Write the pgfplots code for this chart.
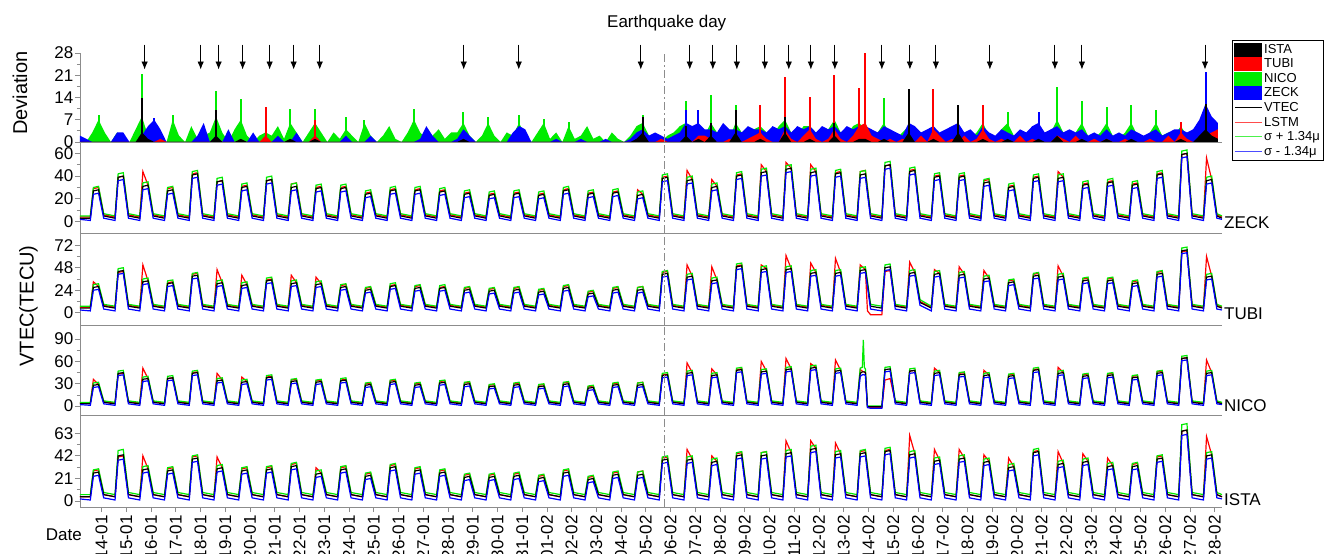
\documentclass[border=0pt]{standalone}
\usepackage{fontspec}
\setmainfont{Liberation Sans}
\usepackage{pgfplots}
\pgfplotsset{compat=1.18}
\usepackage{pgfplotstable}
\usetikzlibrary{arrows.meta}
\definecolor{cgreen}{RGB}{0,235,0}
\definecolor{cblue}{RGB}{0,0,255}
\definecolor{cred}{RGB}{255,0,0}
\definecolor{axgray}{RGB}{140,140,140}
\newcommand\ftick{\fontsize{17bp}{20bp}\selectfont}
\newcommand\flab{\fontsize{20bp}{24bp}\selectfont}
\newcommand\fleg{\fontsize{13bp}{15bp}\selectfont}
\newcommand\ftitle{\fontsize{17bp}{20bp}\selectfont}

% deviation hills: x k(ISTA) r(TUBI) g(NICO) b(ZECK)
\pgfplotstableread{
x k r g b
3 0 0 0 2
9 0 0 0 1
15 0 0 3 0
21 0 0 7 0
27 0 0 3 0
33 0 0 0 0
39 0 0 3 3
45 0 0 1 3
51 0 0 0 0
57 0 0 4 0
63 3 0 8 2
69 1 0 2 5
75 0 0 1 7
81 0 1 0 4
87 0 0 0 0
93 0 0 7 0
99 0 0 2 0
105 0 0 0 0
111 0 0 5 0
117 0 0 1 2
123 0 0 2 6
129 0 0 3 0
135 2 1 8 2
141 0 0 3 0
147 0 0 0 4
153 0 0 4 0
159 1 0 7 0
165 0 0 2 0
171 0 0 0 3
177 0 0 2 0
183 0 2 3 1
189 0 0 2 0
195 0 0 5 2
201 0 0 1 0
207 1 0 6 0
213 0 0 3 3
219 0 0 0 0
225 0 0 3 0
231 1 2 6 2
237 0 0 3 0
243 0 0 0 0
249 0 0 3 0
255 0 0 1 0
261 0 0 4 2
267 0 0 2 0
273 0 0 0 0
279 0 0 6 0
285 0 0 2 2
291 0 0 0 0
297 0 0 2 0
303 0 0 5 0
309 0 0 1 0
315 0 0 0 0
321 0 0 3 0
327 0 0 7 0
333 0 0 3 1
339 0 0 1 5
345 0 0 2 2
351 0 0 4 0
357 0 0 1 0
363 0 0 3 0
369 0 0 3 1
375 1 0 6 4
381 0 0 2 2
387 0 0 0 0
393 0 0 2 0
399 0 0 6 0
405 0 0 2 0
411 0 0 0 0
417 0 0 3 0
423 0 0 2 3
429 0 0 6 5
435 0 0 2 4
441 0 0 0 0
447 0 0 3 0
453 0 0 6 0
459 0 0 1 0
465 0 0 3 1
471 0 0 0 0
477 0 0 5 0
483 0 0 1 0
489 0 0 2 1
495 0 0 5 0
501 0 0 1 0
507 0 0 2 0
513 0 0 0 1
519 0 0 3 0
525 0 0 1 0
531 0 0 0 0
537 0 0 2 1
543 1 0 5 3
549 3 0 6 4
555 0 0 2 2
561 0 0 1 3
567 0 1 0 2
573 0 0 2 1
579 0 0 3 2
585 0 0 5 3
591 2 1 6 6
597 0 0 3 5
603 1 2 4 6
609 0 2 2 4
615 2 1 6 4
621 0 0 3 3
627 0 0 2 6
633 0 1 1 4
639 3 0 6 4
645 0 0 3 3
651 0 1 2 5
657 0 2 4 4
663 1 3 5 4
669 0 1 3 3
675 0 0 2 5
681 0 0 5 4
687 3 4 7 5
693 0 1 3 3
699 0 0 2 5
705 0 2 5 4
711 1 4 5 5
717 0 1 3 3
723 0 0 2 5
729 0 1 4 4
735 2 4 7 5
741 0 1 3 3
747 0 0 2 5
753 0 2 5 4
759 1 5 6 5
765 1 6 4 5
771 0 2 2 4
777 0 1 3 3
783 1 0 6 5
789 0 1 2 4
795 0 0 1 3
801 0 1 3 2
807 3 0 5 6
813 0 0 2 5
819 0 2 3 3
825 0 0 2 4
831 1 4 5 5
837 0 2 2 3
843 0 0 3 4
849 0 1 2 5
855 3 0 4 6
861 0 2 2 3
867 0 0 1 4
873 0 1 3 2
879 1 4 6 5
885 0 1 2 3
891 0 0 1 2
897 0 1 4 4
903 1 0 6 3
909 0 0 2 2
915 0 2 1 4
921 0 0 2 3
927 0 1 3 5
933 1 0 4 6
939 0 0 2 3
945 0 0 3 4
951 2 2 7 5
957 0 1 3 3
963 0 0 2 4
969 0 2 3 3
975 1 0 6 4
981 0 0 2 2
987 0 1 1 3
993 0 0 3 2
999 1 1 6 4
1005 0 0 2 2
1011 0 0 1 3
1017 0 1 3 2
1023 1 0 6 4
1029 0 0 2 3
1035 0 0 1 2
1041 0 1 3 3
1047 0 0 6 4
1053 0 0 2 2
1059 0 2 3 3
1065 0 0 2 4
1071 1 3 5 4
1077 0 1 2 3
1083 0 0 2 4
1089 2 0 6 7
1095 4 2 10 12
1101 2 3 5 8
1107 1 4 3 6
}\dev

% VTEC panels: x v(VTEC) l(LSTM) u(sigma+) b(sigma-)
\pgfplotstableread{
x v l u b
3 3 4 5 2
13 3 4 5 1
16 27 29 30 24
21 28 30 31 25
26 5 6 7 3
37 3 4 5 1
40 39 39 42 36
45 40 40 43 37
50 5 6 7 3
61 3 4 5 1
64 31 44 34 28
69 32 32 35 29
74 5 6 7 3
85 3 4 5 1
88 27 29 30 24
93 28 30 31 25
98 5 6 7 3
109 3 4 5 1
112 41 42 44 38
117 42 43 45 39
122 5 6 7 3
133 3 4 5 1
136 35 35 38 32
141 36 36 39 33
146 5 6 7 3
157 3 4 5 1
160 30 31 33 27
165 31 32 34 28
170 5 6 7 3
181 3 4 5 1
184 36 36 39 33
189 37 37 40 34
194 5 6 7 3
205 3 4 5 1
208 30 33 33 27
213 31 34 34 28
218 5 6 7 3
229 3 4 5 1
232 29 30 32 26
237 30 31 33 27
242 5 6 7 3
253 3 4 5 1
256 29 30 32 26
261 30 31 33 27
266 5 6 7 3
277 3 4 5 1
280 24 25 27 21
285 25 26 28 22
290 5 6 7 3
301 3 4 5 1
304 27 28 30 24
309 28 29 31 25
314 5 6 7 3
325 3 4 5 1
328 27 28 30 24
333 28 29 31 25
338 5 6 7 3
349 3 4 5 1
352 26 27 29 23
357 27 28 30 24
362 5 6 7 3
373 3 4 5 1
376 24 25 27 21
381 25 26 28 22
386 5 6 7 3
397 3 4 5 1
400 23 24 26 20
405 24 25 27 21
410 5 6 7 3
421 3 4 5 1
424 24 25 27 21
429 25 26 28 22
434 5 6 7 3
445 3 4 5 1
448 23 24 26 20
453 24 25 27 21
458 5 6 7 3
469 3 4 5 1
472 27 28 30 24
477 28 29 31 25
482 5 6 7 3
493 3 4 5 1
496 24 25 27 21
501 25 26 28 22
506 5 6 7 3
517 3 4 5 1
520 25 26 28 22
525 26 27 29 23
530 5 6 7 3
541 3 4 5 1
544 23 28 26 20
549 24 24 27 21
554 5 6 7 3
565 3 4 5 1
568 38 39 41 35
573 39 40 42 36
578 5 6 7 3
589 3 4 5 1
592 36 45 39 33
597 37 37 40 34
602 5 6 7 3
613 3 4 5 1
616 30 37 33 27
621 31 31 34 28
626 5 6 7 3
637 3 4 5 1
640 40 41 43 37
645 41 42 44 38
650 5 6 7 3
661 3 4 5 1
664 43 50 46 40
669 44 44 47 41
674 5 6 7 3
685 3 4 5 1
688 46 52 49 43
693 47 47 50 44
698 5 6 7 3
709 3 4 5 1
712 43 50 46 40
717 44 44 47 41
722 5 6 7 3
733 3 4 5 1
736 42 43 45 39
741 43 44 46 40
746 5 6 7 3
757 3 4 5 1
760 41 44 44 38
765 42 45 45 39
770 5 6 7 3
781 3 4 5 1
784 49 49 52 46
789 50 50 53 47
794 5 6 7 3
805 3 4 5 1
808 44 45 47 41
813 45 46 48 42
818 5 6 7 3
829 3 4 5 1
832 39 40 42 36
837 40 41 43 37
842 5 6 7 3
853 3 4 5 1
856 39 40 42 36
861 40 41 43 37
866 5 6 7 3
877 3 4 5 1
880 34 36 37 31
885 35 37 38 32
890 5 6 7 3
901 3 4 5 1
904 30 31 33 27
909 31 32 34 28
914 5 6 7 3
925 3 4 5 1
928 38 39 41 35
933 39 40 42 36
938 5 6 7 3
949 3 4 5 1
952 38 44 41 35
957 39 39 42 36
962 5 6 7 3
973 3 4 5 1
976 32 33 35 29
981 33 34 36 30
986 5 6 7 3
997 3 4 5 1
1000 34 35 37 31
1005 35 36 38 32
1010 5 6 7 3
1021 3 4 5 1
1024 32 33 35 29
1029 33 34 36 30
1034 5 6 7 3
1045 3 4 5 1
1048 41 42 44 38
1053 42 43 45 39
1058 5 6 7 3
1069 3 4 5 1
1072 59 59 62 56
1077 60 60 63 57
1082 5 6 7 3
1093 3 4 5 1
1096 36 56 39 33
1101 37 37 40 34
1106 5 6 7 3
1111 3 4 5 2
}\zeck

\pgfplotstableread{
x v l u b
3 5 6 7 3
13 5 6 7 2
16 27 33 30 24
21 28 28 31 25
26 7 8 9 4
37 5 6 7 2
40 44 43 47 41
45 45 44 48 42
50 7 8 9 4
61 5 6 7 2
64 33 51 36 30
69 34 34 37 31
74 7 8 9 4
85 5 6 7 2
88 31 32 34 28
93 32 33 35 29
98 7 8 9 4
109 5 6 7 2
112 39 41 42 36
117 40 42 43 37
122 7 8 9 4
133 5 6 7 2
136 31 46 34 28
141 32 32 35 29
146 7 8 9 4
157 5 6 7 2
160 29 40 32 26
165 30 30 33 27
170 7 8 9 4
181 5 6 7 2
184 34 35 37 31
189 35 36 38 32
194 7 8 9 4
205 5 6 7 2
208 31 40 34 28
213 32 32 35 29
218 7 8 9 4
229 5 6 7 2
232 30 38 33 27
237 31 31 34 28
242 7 8 9 4
253 5 6 7 2
256 27 29 30 24
261 28 30 31 25
266 7 8 9 4
277 5 6 7 2
280 24 26 27 21
285 25 27 28 22
290 7 8 9 4
301 5 6 7 2
304 28 29 31 25
309 29 30 32 26
314 7 8 9 4
325 5 6 7 2
328 26 28 29 23
333 27 29 30 24
338 7 8 9 4
349 5 6 7 2
352 26 27 29 23
357 27 28 30 24
362 7 8 9 4
373 5 6 7 2
376 24 26 27 21
381 25 27 28 22
386 7 8 9 4
397 5 6 7 2
400 23 25 26 20
405 24 26 27 21
410 7 8 9 4
421 5 6 7 2
424 24 26 27 21
429 25 27 28 22
434 7 8 9 4
445 5 6 7 2
448 22 24 25 19
453 23 25 26 20
458 7 8 9 4
469 5 6 7 2
472 26 28 29 23
477 27 29 30 24
482 7 8 9 4
493 5 6 7 2
496 20 22 23 17
501 21 23 24 18
506 7 8 9 4
517 5 6 7 2
520 24 26 27 21
525 25 27 28 22
530 7 8 9 4
541 5 6 7 2
544 24 27 27 21
549 25 28 28 22
554 7 8 9 4
565 5 6 7 2
568 41 43 44 38
573 42 44 45 39
578 7 8 9 4
589 5 6 7 2
592 38 51 41 35
597 39 39 42 36
602 7 8 9 4
613 5 6 7 2
616 34 49 37 31
621 35 35 38 32
626 7 8 9 4
637 5 6 7 2
640 49 50 52 46
645 50 51 53 47
650 7 8 9 4
661 5 6 7 2
664 46 51 49 43
669 47 47 50 44
674 7 8 9 4
685 5 6 7 2
688 46 61 49 43
693 47 47 50 44
698 7 8 9 4
709 5 6 7 2
712 42 53 45 39
717 43 43 46 40
722 7 8 9 4
733 5 6 7 2
736 42 58 45 39
741 43 43 46 40
746 7 8 9 4
757 5 6 7 2
760 45 51 48 42
765 46 46 49 43
767 31 2 34 28
770 7 -2 9 4
781 5 -2 7 2
784 48 44 51 45
789 49 45 52 46
794 7 8 9 4
805 5 6 7 2
808 42 54 45 39
813 43 43 46 40
818 11 12 14 8
829 5 6 7 2
832 41 46 44 38
837 42 42 45 39
842 7 8 9 4
853 5 6 7 2
856 40 49 43 37
861 41 41 44 38
866 7 8 9 4
877 5 6 7 2
880 36 45 39 33
885 37 37 40 34
890 7 8 9 4
901 5 6 7 2
904 32 34 35 29
909 33 35 36 30
914 7 8 9 4
925 5 6 7 2
928 39 41 42 36
933 40 42 43 37
938 7 8 9 4
949 5 6 7 2
952 38 50 41 35
957 39 39 42 36
962 7 8 9 4
973 5 6 7 2
976 34 36 37 31
981 35 37 38 32
986 7 8 9 4
997 5 6 7 2
1000 34 36 37 31
1005 35 37 38 32
1010 7 8 9 4
1021 5 6 7 2
1024 31 33 34 28
1029 32 34 35 29
1034 7 8 9 4
1045 5 6 7 2
1048 41 43 44 38
1053 42 44 45 39
1058 7 8 9 4
1069 5 6 7 2
1072 66 65 69 63
1077 67 66 70 64
1082 7 8 9 4
1093 5 6 7 2
1096 38 60 41 35
1101 39 39 42 36
1106 7 8 9 4
1111 5 6 7 3
}\tubi

\pgfplotstableread{
x v l u b
3 3 4 5 2
13 3 4 5 1
16 28 36 31 25
21 29 29 32 26
26 5 6 7 3
37 3 4 5 1
40 44 43 47 41
45 45 44 48 42
50 5 6 7 3
61 3 4 5 1
64 36 51 39 33
69 37 37 40 34
74 5 6 7 3
85 3 4 5 1
88 37 37 40 34
93 38 38 41 35
98 5 6 7 3
109 3 4 5 1
112 44 45 47 41
117 45 46 48 42
122 5 6 7 3
133 3 4 5 1
136 34 44 37 31
141 35 35 38 32
146 5 6 7 3
157 3 4 5 1
160 32 39 35 29
165 33 33 36 30
170 5 6 7 3
181 3 4 5 1
184 38 39 41 35
189 39 40 42 36
194 5 6 7 3
205 3 4 5 1
208 33 35 36 30
213 34 36 37 31
218 5 6 7 3
229 3 4 5 1
232 32 34 35 29
237 33 35 36 30
242 5 6 7 3
253 3 4 5 1
256 34 35 37 31
261 35 36 38 32
266 5 6 7 3
277 3 4 5 1
280 28 30 31 25
285 29 31 32 26
290 5 6 7 3
301 3 4 5 1
304 32 34 35 29
309 33 35 36 30
314 5 6 7 3
325 3 4 5 1
328 28 30 31 25
333 29 31 32 26
338 5 6 7 3
349 3 4 5 1
352 31 33 34 28
357 32 34 35 29
362 5 6 7 3
373 3 4 5 1
376 29 31 32 26
381 30 32 33 27
386 5 6 7 3
397 3 4 5 1
400 26 28 29 23
405 27 29 30 24
410 5 6 7 3
421 3 4 5 1
424 28 30 31 25
429 29 31 32 26
434 5 6 7 3
445 3 4 5 1
448 26 28 29 23
453 27 29 30 24
458 5 6 7 3
469 3 4 5 1
472 29 31 32 26
477 30 32 33 27
482 5 6 7 3
493 3 4 5 1
496 24 26 27 21
501 25 27 28 22
506 5 6 7 3
517 3 4 5 1
520 28 30 31 25
525 29 31 32 26
530 5 6 7 3
541 3 4 5 1
544 28 31 31 25
549 29 32 32 26
554 5 6 7 3
565 3 4 5 1
568 41 42 44 38
573 42 43 45 39
578 5 6 7 3
589 3 4 5 1
592 44 58 47 41
597 45 45 48 42
602 5 6 7 3
613 3 4 5 1
616 41 50 44 38
621 42 42 45 39
626 5 6 7 3
637 3 4 5 1
640 48 49 51 45
645 49 50 52 46
650 5 6 7 3
661 3 4 5 1
664 46 60 49 43
669 47 47 50 44
674 5 6 7 3
685 3 4 5 1
688 49 64 52 46
693 50 50 53 47
698 5 6 7 3
709 3 4 5 1
712 51 57 54 48
717 52 52 55 49
722 5 6 7 3
733 3 4 5 1
736 47 62 50 44
741 48 48 51 45
746 5 6 7 3
757 3 4 5 1
760 44 49 51 40
762 46 47 52 42
763 46 46 89 42
764 46 46 52 42
765 45 46 50 41
767 -1 -1 0 -2
770 -1 -2 0 -3
781 -1 -2 0 -3
784 49 35 52 46
789 50 37 53 47
794 5 6 7 3
805 3 4 5 1
808 47 47 50 44
813 48 48 51 45
818 5 6 7 3
829 3 4 5 1
832 44 51 47 41
837 45 45 48 42
842 5 6 7 3
853 3 4 5 1
856 42 44 45 39
861 43 45 46 40
866 5 6 7 3
877 3 4 5 1
880 41 48 44 38
885 42 42 45 39
890 5 6 7 3
901 3 4 5 1
904 40 42 43 37
909 41 43 44 38
914 5 6 7 3
925 3 4 5 1
928 48 49 51 45
933 49 50 52 46
938 5 6 7 3
949 3 4 5 1
952 44 52 47 41
957 45 45 48 42
962 5 6 7 3
973 3 4 5 1
976 40 42 43 37
981 41 43 44 38
986 5 6 7 3
997 3 4 5 1
1000 41 43 44 38
1005 42 44 45 39
1010 5 6 7 3
1021 3 4 5 1
1024 38 40 41 35
1029 39 41 42 36
1034 5 6 7 3
1045 3 4 5 1
1048 44 46 47 41
1053 45 47 48 42
1058 5 6 7 3
1069 3 4 5 1
1072 64 64 67 61
1077 65 65 68 62
1082 5 6 7 3
1093 3 4 5 1
1096 44 62 47 41
1101 45 45 48 42
1106 5 6 7 3
1111 3 4 5 2
}\nico

\pgfplotstableread{
x v l u b
3 4 4 6 2
13 4 4 6 1
16 26 28 29 23
21 27 29 30 24
26 6 6 8 3
37 4 4 6 1
40 42 41 47 38
45 43 42 48 39
50 6 6 8 3
61 4 4 6 1
64 29 42 32 26
69 30 30 33 27
74 6 6 8 3
85 4 4 6 1
88 28 30 31 25
93 29 31 32 26
98 6 6 8 3
109 4 4 6 1
112 39 41 42 36
117 40 42 43 37
122 6 6 8 3
133 4 4 6 1
136 30 41 33 27
141 31 31 34 28
146 6 6 8 3
157 4 4 6 1
160 28 30 31 25
165 29 31 32 26
170 6 6 8 3
181 4 4 6 1
184 29 31 32 26
189 30 32 33 27
194 6 6 8 3
205 4 4 6 1
208 32 34 35 29
213 33 35 36 30
218 6 6 8 3
229 4 4 6 1
232 25 31 28 22
237 26 26 29 23
242 6 6 8 3
253 4 4 6 1
256 29 31 32 26
261 30 32 33 27
266 6 6 8 3
277 4 4 6 1
280 23 25 26 20
285 24 26 27 21
290 6 6 8 3
301 4 4 6 1
304 31 33 34 28
309 32 34 35 29
314 6 6 8 3
325 4 4 6 1
328 28 30 31 25
333 29 31 32 26
338 6 6 8 3
349 4 4 6 1
352 26 28 29 23
357 27 29 30 24
362 6 6 8 3
373 4 4 6 1
376 22 24 25 19
381 23 25 26 20
386 6 6 8 3
397 4 4 6 1
400 22 24 25 19
405 23 25 26 20
410 6 6 8 3
421 4 4 6 1
424 23 25 26 20
429 24 26 27 21
434 6 6 8 3
445 4 4 6 1
448 21 23 24 18
453 22 24 25 19
458 6 6 8 3
469 4 4 6 1
472 26 28 29 23
477 27 29 30 24
482 6 6 8 3
493 4 4 6 1
496 20 22 23 17
501 21 23 24 18
506 6 6 8 3
517 4 4 6 1
520 24 26 27 21
525 25 27 28 22
530 6 6 8 3
541 4 4 6 1
544 24 27 27 21
549 25 28 28 22
554 6 6 8 3
565 4 4 6 1
568 38 40 41 35
573 39 41 42 36
578 6 6 8 3
589 4 4 6 1
592 38 48 41 35
597 39 39 42 36
602 6 6 8 3
613 4 4 6 1
616 36 42 39 33
621 37 37 40 34
626 6 6 8 3
637 4 4 6 1
640 42 44 45 39
645 43 45 46 40
650 6 6 8 3
661 4 4 6 1
664 42 45 45 39
669 43 46 46 40
674 6 6 8 3
685 4 4 6 1
688 44 56 47 41
693 45 45 48 42
698 6 6 8 3
709 4 4 6 1
712 48 56 51 45
717 49 49 52 46
722 6 6 8 3
733 4 4 6 1
736 43 54 46 40
741 44 44 47 41
746 6 6 8 3
757 4 4 6 1
760 44 46 47 41
765 45 47 48 42
770 6 6 8 3
781 4 4 6 1
784 46 47 49 43
789 47 48 50 44
794 6 6 8 3
805 4 4 6 1
808 43 61 46 40
813 44 44 47 41
818 6 6 8 3
829 4 4 6 1
832 37 48 40 34
837 38 38 41 35
842 6 6 8 3
853 4 4 6 1
856 39 48 42 36
861 40 40 43 37
866 6 6 8 3
877 4 4 6 1
880 36 43 39 33
885 37 37 40 34
890 6 6 8 3
901 4 4 6 1
904 31 40 34 28
909 32 32 35 29
914 6 6 8 3
925 4 4 6 1
928 45 46 48 42
933 46 47 49 43
938 6 6 8 3
949 4 4 6 1
952 34 46 37 31
957 35 35 38 32
962 6 6 8 3
973 4 4 6 1
976 36 44 39 33
981 37 37 40 34
986 6 6 8 3
997 4 4 6 1
1000 32 40 35 29
1005 33 33 36 30
1010 6 6 8 3
1021 4 4 6 1
1024 32 34 35 29
1029 33 35 36 30
1034 6 6 8 3
1045 4 4 6 1
1048 39 41 42 36
1053 40 42 43 37
1058 6 6 8 3
1069 4 4 6 1
1072 65 65 71 61
1077 66 66 72 62
1082 6 6 8 3
1093 4 4 6 1
1096 42 60 45 39
1101 43 43 46 40
1106 6 6 8 3
1111 4 4 6 2
}\ista

\pgfplotsset{
  panel/.style={
    scale only axis, width=1142bp, xmin=3, xmax=1111,
    anchor=south west,
    axis x line*=bottom, axis y line*=left,
    axis line style={draw=axgray, line width=0.8bp, -},
    tick style={draw=axgray, line width=0.8bp},
    tick align=outside, major tick length=5bp, minor tick length=3bp,
    minor y tick num=1,
    yticklabel style={font=\ftick, inner sep=1.5bp},
    /pgf/number format/assume math mode=true,
    xtick=\empty,
  },
  ln/.style={line width=1.2bp, forget plot},
  sp/.style={ycomb, line width=2bp, forget plot},
  eq/.style={draw=axgray, line width=1.4bp, dash pattern=on 8bp off 3bp on 2bp off 3bp, forget plot},
}

\begin{document}
\begin{tikzpicture}
% Deviation
\begin{axis}[panel, at={(0,365bp)}, height=89bp, ymin=0, ymax=28,
  ytick={0,7,14,21,28}, clip=false,
  legend style={at={(1.0088,1.146)}, anchor=north west, draw=black,
    line width=0.7bp, font=\fleg, inner sep=2bp, row sep=0bp,
    cells={anchor=west}}]
\addplot[draw=none, fill=cgreen, forget plot] table[x=x,y=g]{\dev} \closedcycle;
\addplot[sp, cgreen] coordinates {(21,8.4) (63,21.5) (93,8.4) (135,16.2) (159,13.6)
 (207,10.5) (231,10.5) (261,8) (279,6.8) (327,10.5) (375,9.4) (399,8) (429,8.4)
 (453,7.3) (477,6.3) (549,8.4) (591,13) (615,14.8) (639,11.5) (687,14) (735,13)
 (783,13.7) (903,9.4) (951,17.3) (975,13) (999,11) (1023,11.6) (1047,10) (1095,20.5)};
\addplot[draw=none, fill=cblue, forget plot] table[x=x,y=b]{\dev} \closedcycle;
\addplot[sp, cblue] coordinates {(75,7.5) (591,10) (603,10) (807,11) (855,8) (933,9.4) (1095,22)};
\addplot[draw=none, fill=cred, forget plot] table[x=x,y=r]{\dev} \closedcycle;
\addplot[sp, cred] coordinates {(183,11) (231,6.8) (663,11.5) (687,20.5) (711,14)
 (735,21) (759,17) (765,28) (831,16.8) (879,11.6) (1071,6.3)};
\addplot[draw=none, fill=black, forget plot] table[x=x,y=k]{\dev} \closedcycle;
\addplot[sp, black] coordinates {(63,13.7) (135,10) (549,8) (591,5) (615,6) (639,10)
 (687,8) (735,6) (807,16.8) (855,11.6) (1095,12)};
\addplot[eq] coordinates {(570,0) (570,28)};
\addplot[black, line width=0.9bp, -{Latex[length=8bp,width=6.5bp]},
  quiver={u=0,v=-7.8}, forget plot] coordinates {
(65.7,30.6) (120.1,30.6) (137.5,30.6) (160.8,30.6) (187,30.6) (210.3,30.6)
(235.6,30.6) (375.3,30.6) (428.7,30.6) (547.1,30.6) (594.6,30.6) (617,30.6)
(640.3,30.6) (667.5,30.6) (690.7,30.6) (712.1,30.6) (735.4,30.6) (781,30.6)
(808.2,30.6) (833.4,30.6) (885.8,30.6) (948.9,30.6) (975.1,30.6) (1094.5,30.6)};
\addlegendimage{legend image code/.code={\fill[black] (0bp,-6.5bp) rectangle (27bp,6.5bp);}}
\addlegendentry{ISTA}
\addlegendimage{legend image code/.code={\fill[cred] (0bp,-6.5bp) rectangle (27bp,6.5bp);}}
\addlegendentry{TUBI}
\addlegendimage{legend image code/.code={\fill[cgreen] (0bp,-6.5bp) rectangle (27bp,6.5bp);}}
\addlegendentry{NICO}
\addlegendimage{legend image code/.code={\fill[cblue] (0bp,-6.5bp) rectangle (27bp,6.5bp);}}
\addlegendentry{ZECK}
\addlegendimage{legend image code/.code={\draw[black,line width=0.8bp] (0bp,0bp) -- (27bp,0bp);}}
\addlegendentry{VTEC}
\addlegendimage{legend image code/.code={\draw[cred!70,line width=0.8bp] (0bp,0bp) -- (27bp,0bp);}}
\addlegendentry{LSTM}
\addlegendimage{legend image code/.code={\draw[cgreen!70,line width=0.8bp] (0bp,0bp) -- (27bp,0bp);}}
\addlegendentry{σ + 1.34μ}
\addlegendimage{legend image code/.code={\draw[cblue!70,line width=0.8bp] (0bp,0bp) -- (27bp,0bp);}}
\addlegendentry{σ - 1.34μ}
\end{axis}
% ZECK
\begin{axis}[panel, at={(0,274bp)}, height=91bp, ymin=-10, ymax=70, ytick={0,20,40,60}]
\addplot[ln, cred] table[x=x,y=l]{\zeck};
\addplot[ln, cgreen] table[x=x,y=u]{\zeck};
\addplot[ln, black] table[x=x,y=v]{\zeck};
\addplot[ln, cblue] table[x=x,y=b]{\zeck};
\addplot[eq] coordinates {(570,-10) (570,70)};
\end{axis}
% TUBI
\begin{axis}[panel, at={(0,182bp)}, height=92bp, ymin=-13, ymax=85, ytick={0,24,48,72}]
\addplot[ln, cred] table[x=x,y=l]{\tubi};
\addplot[ln, cgreen] table[x=x,y=u]{\tubi};
\addplot[ln, black] table[x=x,y=v]{\tubi};
\addplot[ln, cblue] table[x=x,y=b]{\tubi};
\addplot[eq] coordinates {(570,-13) (570,85)};
\end{axis}
% NICO
\begin{axis}[panel, at={(0,92bp)}, height=90bp, ymin=-12, ymax=109, ytick={0,30,60,90}]
\addplot[ln, cred] table[x=x,y=l]{\nico};
\addplot[ln, cgreen] table[x=x,y=u]{\nico};
\addplot[ln, black] table[x=x,y=v]{\nico};
\addplot[ln, cblue] table[x=x,y=b]{\nico};
\addplot[eq] coordinates {(570,-12) (570,109)};
\end{axis}
% ISTA
\begin{axis}[panel, at={(0,0bp)}, height=92bp, ymin=-5.5, ymax=80, ytick={0,21,42,63},
  xtick={24,48,...,1104},
  xticklabels={14-01,15-01,16-01,17-01,18-01,19-01,20-01,21-01,22-01,23-01,24-01,25-01,26-01,27-01,28-01,29-01,30-01,31-01,01-02,02-02,03-02,04-02,05-02,06-02,07-02,08-02,09-02,10-02,11-02,12-02,13-02,14-02,15-02,16-02,17-02,18-02,19-02,20-02,21-02,22-02,23-02,24-02,25-02,26-02,27-02,28-02},
  xticklabel style={rotate=90, anchor=east, font=\ftick}]
\addplot[ln, cred] table[x=x,y=l]{\ista};
\addplot[ln, cgreen] table[x=x,y=u]{\ista};
\addplot[ln, black] table[x=x,y=v]{\ista};
\addplot[ln, cblue] table[x=x,y=b]{\ista};
\addplot[eq] coordinates {(570,-5.5) (570,80)};
\end{axis}
\node[rotate=90, font=\flab] at (-60bp,414bp) {Deviation};
\node[rotate=90, font=\flab] at (-51.5bp,201bp) {VTEC(TECU)};
\node[font=\ftitle] at (586.7bp,484bp) {Earthquake day};
\node[anchor=east, font=\ftick, inner sep=0pt] at (2bp,-28bp) {Date};
\node[anchor=west, font=\ftick, inner sep=1bp] at (1143bp,284bp) {ZECK};
\node[anchor=west, font=\ftick, inner sep=1bp] at (1143bp,193bp) {TUBI};
\node[anchor=west, font=\ftick, inner sep=1bp] at (1143bp,101bp) {NICO};
\node[anchor=west, font=\ftick, inner sep=1bp] at (1143bp,7bp) {ISTA};
\pgfresetboundingbox
\path[use as bounding box] (-80bp,-47bp) rectangle (1244bp,507bp);
\end{tikzpicture}
\end{document}
